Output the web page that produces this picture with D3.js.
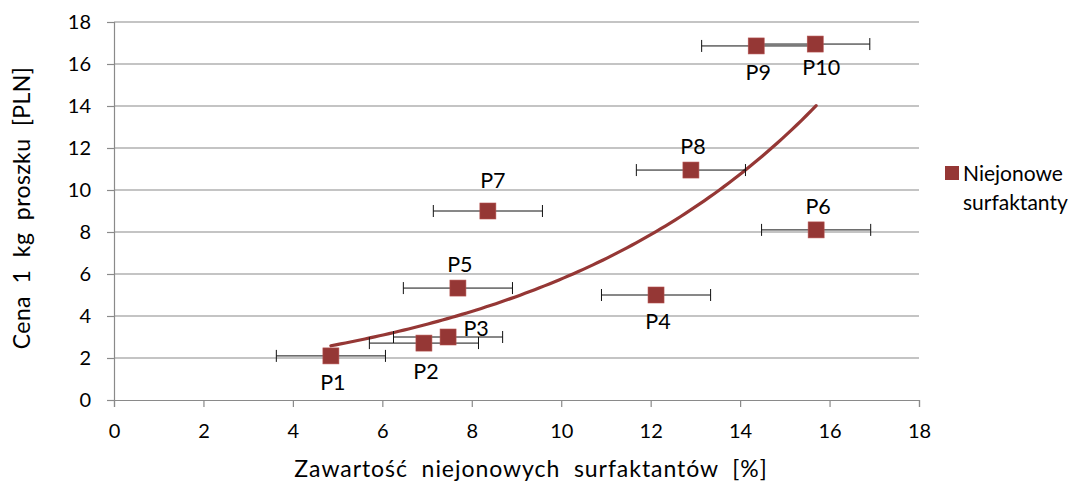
<!DOCTYPE html>
<html>
<head>
<meta charset="utf-8">
<script src="https://cdn.jsdelivr.net/npm/d3@7"></script>
<style>
  html, body { margin: 0; padding: 0; background: #fff; }
  svg { display: block; font-family: Lato, "Open Sans", sans-serif; }
</style>
</head>
<body>
<svg id="chart" width="1075" height="481"></svg>
<script>
// Product names, surfactant content [%] and price per kg [PLN]
const names   = ["P1", "P2", "P3", "P4", "P5", "P6", "P7", "P8", "P9", "P10"];
const content = [4.85, 6.93, 7.47, 12.12, 7.69, 15.70, 8.36, 12.90, 14.36, 15.68];
const price   = [2.10, 2.71, 3.00, 5.00, 5.33, 8.10, 9.00, 10.95, 16.86, 16.95];
// Fixed horizontal uncertainty of the content measurement
const contentError = 1.22;

const xTicks = [0, 2, 4, 6, 8, 10, 12, 14, 16, 18];
const yTicks = [0, 2, 4, 6, 8, 10, 12, 14, 16, 18];

const seriesName = ["Niejonowe", "surfaktanty"];
const xTitle = "Zawartość  niejonowych  surfaktantów  [%]";
const yTitle = "Cena  1  kg  proszku  [PLN]";

const COLOR = "#953735";
const GRID = "#8a8a8a";

const svg = d3.select("#chart");
const plot = { left: 114, right: 919, top: 22, bottom: 400 };

const x = d3.scaleLinear().domain([0, 18]).range([plot.left, plot.right]);
const y = d3.scaleLinear().domain([0, 18]).range([plot.bottom, plot.top]);

// Horizontal gridlines
svg.append("g")
  .selectAll("line")
  .data(yTicks.filter(t => t > 0))
  .join("line")
  .attr("x1", plot.left).attr("x2", plot.right)
  .attr("y1", d => y(d)).attr("y2", d => y(d))
  .attr("stroke", GRID).attr("stroke-width", 1.2);

// Axes
const xAxis = svg.append("g")
  .attr("transform", `translate(0,${plot.bottom})`)
  .call(d3.axisBottom(x).tickValues(xTicks).tickSize(7).tickPadding(17).tickFormat(d3.format("d")));
const yAxis = svg.append("g")
  .attr("transform", `translate(${plot.left},0)`)
  .call(d3.axisLeft(y).tickValues(yTicks).tickSize(7).tickPadding(16).tickFormat(d3.format("d")));

[xAxis, yAxis].forEach(g => {
  g.select(".domain").attr("stroke", GRID).attr("stroke-width", 1.2);
  g.selectAll(".tick line").attr("stroke", GRID).attr("stroke-width", 1.2);
  g.selectAll(".tick text")
    .attr("fill", "#000")
    .style("font-size", "20px")
    .style("font-family", "Lato, 'Open Sans', sans-serif");
});

// Exponential trend line y = a·e^(b·x), least squares on ln(price)
const lny = price.map(Math.log);
const mx = d3.mean(content), my = d3.mean(lny);
const b = d3.sum(content.map((v, i) => (v - mx) * (lny[i] - my))) /
          d3.sum(content.map(v => (v - mx) ** 2));
const a = Math.exp(my - b * mx);
const [xMin, xMax] = d3.extent(content);
const trendX = d3.range(0, 101).map(i => xMin + (xMax - xMin) * i / 100);

svg.append("path")
  .datum(trendX)
  .attr("fill", "none")
  .attr("stroke", COLOR)
  .attr("stroke-width", 3.2)
  .attr("stroke-linecap", "round")
  .attr("d", d3.line().x(d => x(d)).y(d => y(a * Math.exp(b * d))));

const points = names.map((name, i) => ({ name, cx: content[i], cy: price[i] }));

// Error bars
const eb = svg.append("g").attr("stroke", "#111").attr("stroke-width", 1);
points.forEach(p => {
  const x0 = x(p.cx - contentError), x1 = x(p.cx + contentError), py = y(p.cy);
  eb.append("line").attr("x1", x0).attr("x2", x1).attr("y1", py).attr("y2", py);
  eb.append("line").attr("x1", x0).attr("x2", x0).attr("y1", py - 6).attr("y2", py + 6);
  eb.append("line").attr("x1", x1).attr("x2", x1).attr("y1", py - 6).attr("y2", py + 6);
});

// Square markers
const M = 16;
svg.append("g")
  .selectAll("rect")
  .data(points)
  .join("rect")
  .attr("x", d => x(d.cx) - M / 2)
  .attr("y", d => y(d.cy) - M / 2)
  .attr("width", M).attr("height", M)
  .attr("fill", COLOR)
  .attr("stroke", "#b5524f").attr("stroke-width", 0.6);

// Data labels: placement per product, with a few hand nudges
const placement = {
  P1: "below", P2: "below", P3: "right", P4: "below", P5: "above",
  P6: "above", P7: "above", P8: "above", P9: "below", P10: "below"
};
const nudge = { P7: [3, -7], P10: [4, -3], P2: [0, 2] };
svg.append("g")
  .selectAll("text")
  .data(points)
  .join("text")
  .attr("x", d => {
    const base = x(d.cx) + (placement[d.name] === "right" ? 28 : 2);
    return base + (nudge[d.name] ? nudge[d.name][0] : 0);
  })
  .attr("y", d => {
    const py = y(d.cy);
    const off = placement[d.name] === "above" ? -16 : placement[d.name] === "below" ? 34 : -1;
    return py + off + (nudge[d.name] ? nudge[d.name][1] : 0);
  })
  .attr("text-anchor", "middle")
  .style("font-size", "21.5px")
  .text(d => d.name);

// Axis titles
svg.append("text")
  .attr("x", 531).attr("y", 477)
  .attr("text-anchor", "middle")
  .style("font-size", "23px")
  .style("letter-spacing", "0.95px")
  .attr("xml:space", "preserve")
  .text(xTitle);

svg.append("text")
  .attr("transform", `translate(30,208) rotate(-90)`)
  .attr("text-anchor", "middle")
  .style("font-size", "23px")
  .style("letter-spacing", "0.4px")
  .attr("xml:space", "preserve")
  .text(yTitle);

// Legend
const lg = svg.append("g");
lg.append("rect")
  .attr("x", 945).attr("y", 166).attr("width", 14).attr("height", 14)
  .attr("fill", COLOR);
lg.selectAll("text")
  .data(seriesName)
  .join("text")
  .attr("x", 963)
  .attr("y", (d, i) => 181 + i * 29)
  .style("font-size", "21px")
  .text(d => d);
</script>
</body>
</html>
